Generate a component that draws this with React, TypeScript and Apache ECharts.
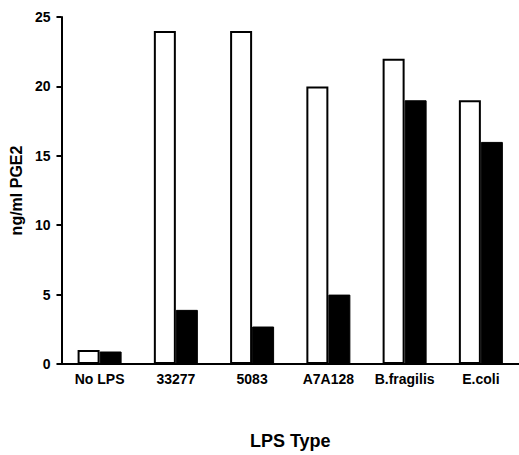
import React, { useEffect, useRef } from "react";
import * as echarts from "echarts";

const categories = ["No LPS", "33277", "5083", "A7A128", "B.fragilis", "E.coli"];
const openValues = [1.0, 24, 24, 20, 22, 19];
const filledValues = [0.9, 3.9, 2.7, 5.0, 19, 16];
const yTicks = [0, 5, 10, 15, 20, 25];

export default function App() {
  const ref = useRef<HTMLDivElement>(null);
  useEffect(() => {
    if (!ref.current) return;
    const chart = echarts.init(ref.current, undefined, { renderer: "svg" });
    const font = "'Liberation Sans', Arial, sans-serif";
    chart.setOption({
      animation: false,
      backgroundColor: "#ffffff",
      grid: { left: 60, top: 17, width: 462, height: 350, containLabel: false },
      xAxis: {
        type: "category",
        data: categories,
        name: "LPS Type",
        nameLocation: "middle",
        nameGap: 68,
        nameTextStyle: { fontFamily: font, fontWeight: "bold", fontSize: 18, color: "#000" },
        axisLine: { lineStyle: { color: "#000", width: 2 } },
        axisTick: { show: false },
        axisLabel: {
          interval: 0,
          hideOverlap: false,
          fontFamily: font,
          fontWeight: "bold",
          fontSize: 14,
          color: "#000",
          margin: 8,
        },
      },
      yAxis: {
        type: "value",
        min: 0,
        max: 25,
        interval: 5,
        name: "ng/ml PGE2",
        nameLocation: "middle",
        nameGap: 33,
        nameTextStyle: { fontFamily: font, fontWeight: "bold", fontSize: 16, color: "#000" },
        axisLine: { show: true, lineStyle: { color: "#000", width: 2 } },
        axisTick: { show: true, length: 5, lineStyle: { color: "#000", width: 2 } },
        axisLabel: {
          fontFamily: font,
          fontWeight: "bold",
          fontSize: 14,
          color: "#000",
          margin: 11,
          formatter: (v: number) => (yTicks.includes(v) ? String(v) : ""),
        },
        splitLine: { show: false },
      },
      series: [
        {
          type: "bar",
          data: openValues,
          barWidth: 22,
          barGap: "0%",
          itemStyle: { color: "#ffffff", borderColor: "#000", borderWidth: 2 },
        },
        {
          type: "bar",
          data: filledValues,
          barWidth: 22,
          barGap: "0%",
          itemStyle: { color: "#000000", borderColor: "#000", borderWidth: 1 },
        },
      ],
    });
    return () => chart.dispose();
  }, []);
  return (
    <div
      ref={ref}
      style={{ position: "fixed", left: 0, top: 0, width: 519, height: 455 }}
    />
  );
}
